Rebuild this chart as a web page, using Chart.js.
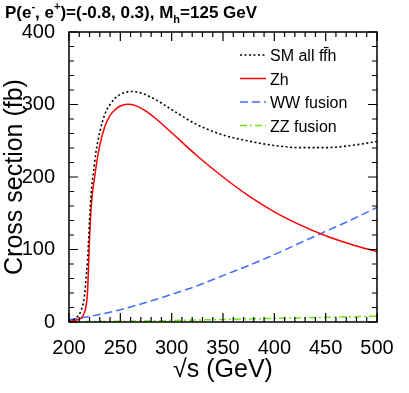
<!DOCTYPE html>
<html>
<head>
<meta charset="utf-8">
<script src="https://cdn.jsdelivr.net/npm/chart.js@4.4.0/dist/chart.umd.min.js"></script>
<style>
  html, body { margin: 0; padding: 0; background: #fff; }
  #wrap { width: 409px; height: 393px; position: relative; }
</style>
</head>
<body>
<div id="wrap"><canvas id="Chart"></canvas></div>
<script>
// sqrt(s) in GeV and cross sections in fb
var smS  = [200, 204, 208, 212, 215, 216.5, 218, 219, 220, 221, 222, 224, 226, 230, 235, 240, 245, 250, 255, 261, 270, 280, 290, 300, 325, 350, 375, 400, 425, 450, 475, 500]
var smXS = [0.5, 3, 7, 17, 35, 58, 85, 110, 140, 165, 185, 208, 232, 262, 287, 300, 309, 314, 317, 318, 316, 310, 302, 293, 272, 258, 249.5, 243.5, 240.5, 240.5, 243.5, 249]

var zhS  = [200, 205, 210, 213, 215, 216.5, 218, 219, 220, 221, 222, 223, 225, 227, 230, 235, 240, 245, 250, 257, 265, 275, 285, 300, 325, 350, 375, 400, 425, 450, 475, 500]
var zhXS = [0.5, 2, 4, 7, 13, 21, 40, 75, 115, 145, 165, 180, 200, 220, 244, 270, 285, 293, 298, 300.5, 298.5, 291, 280, 261, 229, 200, 174, 152, 134, 119, 107, 97]

var wwS  = [200, 225, 250, 275, 300, 325, 350, 375, 400, 425, 450, 475, 500]
var wwXS = [3, 9, 17, 27, 38, 50, 64, 78, 93, 109, 125, 141, 158]

var zzS  = [200, 250, 300, 350, 400, 450, 500]
var zzXS = [0.3, 1, 2, 3.5, 5, 6.5, 8]

var allLabels = ['SM all ff\u0304h', 'Zh', 'WW fusion', 'ZZ fusion']

function toPoints(xs, ys) {
    return xs.map(function(x, i) { return {x: x, y: ys[i]}; });
}

var FONT = '"Liberation Sans", Arial, Helvetica, sans-serif';

// frame, inward ticks on all four sides, title and legend
var decor = {
    id: 'decor',
    afterDraw: function(chart) {
        var c = chart.ctx, a = chart.chartArea;
        var xs = chart.scales.x, ys = chart.scales.y;
        c.save();
        c.strokeStyle = '#000';
        c.lineWidth = 1.5;
        c.strokeRect(a.left, a.top, a.right - a.left, a.bottom - a.top);
        c.lineWidth = 1.2;
        c.beginPath();
        for (var v = 200; v <= 500; v += 10) {
            var px = xs.getPixelForValue(v);
            var len = (v % 50 === 0) ? 9 : 5;
            c.moveTo(px, a.bottom); c.lineTo(px, a.bottom - len);
            c.moveTo(px, a.top); c.lineTo(px, a.top + len);
        }
        for (var w = 0; w <= 400; w += 20) {
            var py = ys.getPixelForValue(w);
            var l2 = (w % 100 === 0) ? 9 : 5;
            c.moveTo(a.left, py); c.lineTo(a.left + l2, py);
            c.moveTo(a.right, py); c.lineTo(a.right - l2, py);
        }
        c.stroke();

        // title with super/subscripts
        var big = 'bold 17px ' + FONT, small = 'bold 11px ' + FONT;
        var parts = [
            ['P(e', big, 0], ['-', small, -8], [', e', big, 0], ['+', small, -8],
            [')=(-0.8, 0.3), M', big, 0], ['h', small, 5], ['=125 GeV', big, 0]
        ];
        var tx = 5, base = 18;
        c.fillStyle = '#000';
        c.textBaseline = 'alphabetic';
        c.textAlign = 'left';
        parts.forEach(function(p) {
            c.font = p[1];
            c.fillText(p[0], tx, base + p[2]);
            tx += c.measureText(p[0]).width;
        });

        // legend (combining macron drawn by hand as a bar)
        c.font = '16px ' + FONT;
        c.textBaseline = 'alphabetic';
        var rows = [55, 78.5, 102, 125.5];
        chart.data.datasets.forEach(function(ds, i) {
            var y = rows[i];
            c.strokeStyle = ds.borderColor;
            c.lineWidth = ds.borderWidth;
            c.setLineDash(ds.borderDash || []);
            c.beginPath();
            c.moveTo(240, y); c.lineTo(266, y);
            c.stroke();
            c.setLineDash([]);
            var txt = ds.label;
            var k = txt.indexOf('\u0304');
            var plain = txt.replace('\u0304', '');
            c.fillText(plain, 270, y + 6);
            if (k > 0) {
                var x0 = 270 + c.measureText(plain.slice(0, k - 1)).width;
                var x1 = 270 + c.measureText(plain.slice(0, k)).width;
                c.strokeStyle = '#000';
                c.lineWidth = 1.2;
                c.beginPath();
                c.moveTo(x0 + 0.5, y - 7.5); c.lineTo(x1 + 1, y - 7.5);
                c.stroke();
            }
        });
        c.restore();
    }
};

const ctx = document.getElementById('Chart');
var graphData = {
    type: 'line',
    data: {
        datasets: [{
            label: allLabels[0],
            data: toPoints(smS, smXS),
            borderColor: '#000000',
            borderWidth: 1.6,
            borderDash: [2, 2.5]
        }, {
            label: allLabels[1],
            data: toPoints(zhS, zhXS),
            borderColor: '#ff0000',
            borderWidth: 1.5
        }, {
            label: allLabels[2],
            data: toPoints(wwS, wwXS),
            borderColor: '#3f6fff',
            borderWidth: 1.5,
            borderDash: [8, 4]
        }, {
            label: allLabels[3],
            data: toPoints(zzS, zzXS),
            borderColor: '#72e81a',
            borderWidth: 1.5,
            borderDash: [7, 3, 2, 3]
        }]
    },
    options: {
        responsive: true,
        maintainAspectRatio: false,
        animation: false,
        clip: false,
        elements: {
            point: { radius: 0 },
            line: { cubicInterpolationMode: 'monotone', fill: false }
        },
        layout: { padding: { top: 32, right: 32, left: 0, bottom: 0 } },
        plugins: {
            legend: { display: false },
            tooltip: { enabled: false }
        },
        scales: {
            x: {
                type: 'linear',
                min: 200,
                max: 500,
                afterFit: function(s) { s.height = 71; },
                grid: { display: false },
                border: { display: false },
                ticks: {
                    stepSize: 50,
                    maxRotation: 0,
                    padding: 6,
                    color: '#000',
                    font: { family: FONT, size: 20 }
                },
                title: {
                    display: true,
                    text: '\u221As (GeV)',
                    color: '#000',
                    font: { family: FONT, size: 25 },
                    padding: { top: 0, bottom: 8 }
                }
            },
            y: {
                min: 0,
                max: 400,
                afterFit: function(s) { s.width = 69; },
                grid: { display: false },
                border: { display: false },
                ticks: {
                    stepSize: 100,
                    padding: 6,
                    color: '#000',
                    font: { family: FONT, size: 20 }
                },
                title: {
                    display: true,
                    text: 'Cross section (fb)',
                    color: '#000',
                    font: { family: FONT, size: 25 },
                    padding: 0
                }
            }
        }
    },
    plugins: [decor]
};
window.myChart = new Chart(ctx, graphData);
</script>
</body>
</html>
